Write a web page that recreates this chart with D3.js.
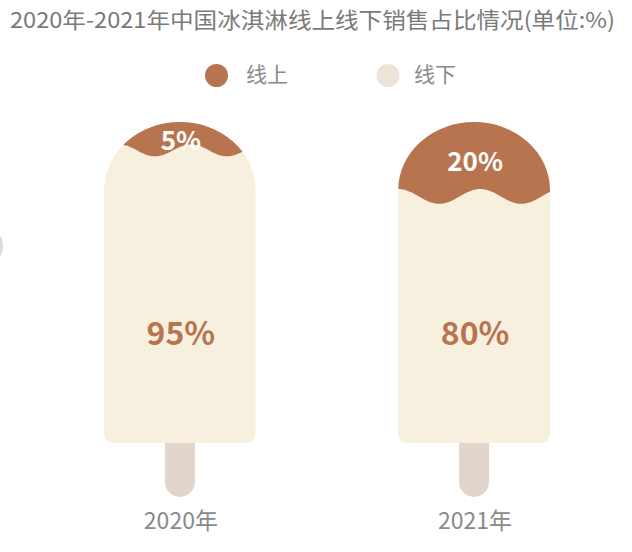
<!DOCTYPE html>
<html><head><meta charset="utf-8">
<script src="https://cdn.jsdelivr.net/npm/d3@7/dist/d3.min.js"></script>
<style>html,body{margin:0;padding:0;background:#fff;}svg{display:block;}</style>
</head><body>
<svg id="c" width="632" height="552"></svg>
<script>
const years = ["2020年", "2021年"];
const online = [5, 20];
const offline = [95, 80];
const seriesNames = ["线上", "线下"];
const title = "2020年-2021年中国冰淇淋线上线下销售占比情况(单位:%)";

const W = 632, H = 552;
const svg = d3.select("#c");
const font = "'Noto Sans CJK SC','Noto Sans',sans-serif";
const cBrown = "#b8744f", cCream = "#f7f0df", cStick = "#e2d6cc", cLegCream = "#ebe5d7";

// faint edge artifact
svg.append("ellipse").attr("cx", -3).attr("cy", 246).attr("rx", 6).attr("ry", 12).attr("fill", "#dcdcdc");

svg.append("text").attr("x", 10).attr("y", 28)
  .attr("font-family", font).attr("font-size", 22).attr("fill", "#7a7a7a")
  .attr("textLength", 605).attr("lengthAdjust", "spacingAndGlyphs").text(title);

// legend
const leg = [{x: 216.5, tx: 246, c: cBrown}, {x: 388, tx: 414, c: cLegCream}];
leg.forEach((l, i) => {
  svg.append("circle").attr("cx", l.x).attr("cy", 75.5).attr("r", 11.5).attr("fill", l.c);
  svg.append("text").attr("x", l.tx).attr("y", 75).attr("dy", "0.35em")
    .attr("font-family", font).attr("font-size", 21).attr("fill", "#8a8a8a").text(seriesNames[i]);
});

const x = d3.scaleBand().domain(years).range([104, 550]).paddingInner(0.484).paddingOuter(0);
// fill-level scale: share of 线上 measured from the top
const level = d3.scaleLinear().domain([0, 100]).range([135, 442]);
const shapeTop = 122, bodyBottom = 443, stickBottom = 497, stickW = 30;

const defs = svg.append("defs");

years.forEach((yr, i) => {
  const x0 = x(yr), w = x.bandwidth(), x1 = x0 + w, cx = x0 + w / 2;
  const ry = 68, r = 10;
  const shape = `M${x0},${shapeTop + ry} A${w/2},${ry} 0 0 1 ${x1},${shapeTop + ry} L${x1},${bodyBottom - r} Q${x1},${bodyBottom} ${x1 - r},${bodyBottom} L${x0 + r},${bodyBottom} Q${x0},${bodyBottom} ${x0},${bodyBottom - r} Z`;
  const g = svg.append("g");
  // stick
  g.append("path").attr("fill", cStick)
    .attr("d", `M${cx - stickW/2},${bodyBottom - 5} L${cx + stickW/2},${bodyBottom - 5} L${cx + stickW/2},${stickBottom - stickW/2} A${stickW/2},${stickW/2} 0 0 1 ${cx - stickW/2},${stickBottom - stickW/2} Z`);
  defs.append("clipPath").attr("id", "clip" + i).append("path").attr("d", shape);
  const body = g.append("g").attr("clip-path", `url(#clip${i})`);
  body.append("path").attr("d", shape).attr("fill", cCream);
  // wave boundary
  const yl = level(online[i]);
  const amp = i === 0 ? 6 : 7.5, wl = i === 0 ? 72 : 82, ph = i === 0 ? 15 : 0;
  const pts = d3.range(x0 - 5, x1 + 6, 2).map(px => [px, yl - amp * Math.cos((px - x0 - ph) / wl * 2 * Math.PI)]);
  const line = d3.line().curve(d3.curveBasis);
  const wave = `M${x0 - 5},${shapeTop - 5} L${x1 + 5},${shapeTop - 5} L${pts[pts.length-1][0]},${pts[pts.length-1][1]} ` +
    line(pts.slice().reverse()).slice(1) + " Z";
  body.append("path").attr("d", wave).attr("fill", cBrown);

  // labels
  const onY = i === 0 ? 141 : 162;
  g.append("text").attr("x", cx + 1).attr("y", onY).attr("dy", "0.35em").attr("text-anchor", "middle")
    .attr("font-family", font).attr("font-weight", "bold").attr("font-size", 26)
    .attr("fill", "#fff").text(online[i] + "%");
  g.append("text").attr("x", cx + 1).attr("y", 334).attr("dy", "0.35em").attr("text-anchor", "middle")
    .attr("font-family", font).attr("font-weight", "bold").attr("font-size", 32)
    .attr("fill", cBrown).text(offline[i] + "%");
  g.append("text").attr("x", cx + 1).attr("y", 521).attr("dy", "0.35em").attr("text-anchor", "middle")
    .attr("font-family", font).attr("font-size", 23).attr("fill", "#8a8a8a").text(yr);
});
</script>
</body></html>
